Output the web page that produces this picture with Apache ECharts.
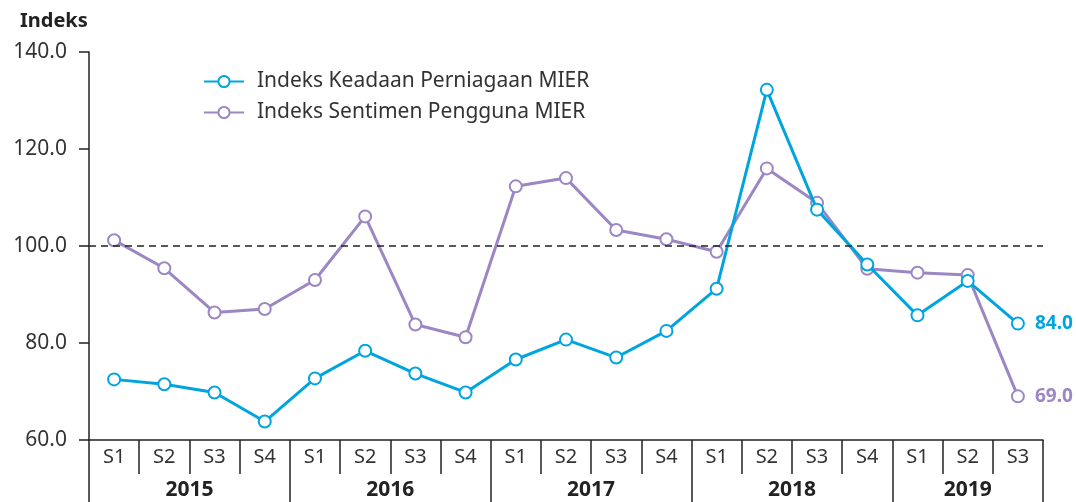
<!DOCTYPE html>
<html>
<head>
<meta charset="utf-8">
<script src="https://cdn.jsdelivr.net/npm/echarts@6/dist/echarts.min.js"></script>
<style>
  html, body { margin: 0; padding: 0; background: #fff; }
  #chart { width: 1076px; height: 502px; }
</style>
</head>
<body>
<div id="chart"></div>
<script>
const quarters = [
  'S1', 'S2', 'S3', 'S4',
  'S1', 'S2', 'S3', 'S4',
  'S1', 'S2', 'S3', 'S4',
  'S1', 'S2', 'S3', 'S4',
  'S1', 'S2', 'S3'
]
const years = ['2015', '2016', '2017', '2018', '2019']
const yearBounds = [0, 4, 8, 12, 16, 19] // kedudukan garis pemisah tahun
const yearCenters = [2, 6, 10, 14, 17.5]

const perniagaan = [
  72.5, 71.5, 69.8, 63.8,
  72.7, 78.4, 73.7, 69.8,
  76.6, 80.7, 77.0, 82.5,
  91.2, 132.2, 107.5, 96.2,
  85.7, 92.8, 84.0
]
const pengguna = [
  101.2, 95.4, 86.3, 87.0,
  93.0, 106.1, 83.8, 81.2,
  112.3, 114.0, 103.3, 101.4,
  98.8, 116.0, 108.9, 95.3,
  94.5, 94.0, 69.0
]
const yTicks = [60, 80, 100, 120, 140]

const blue = '#00a5df'
const purple = '#9c86c3'
const font = 'Noto Sans'

function lastLabel (arr, color) {
  return arr.map((v, i) => i === arr.length - 1
    ? { value: v, label: { show: true, position: 'right', distance: 10, formatter: v.toFixed(1), color: color, fontWeight: 'bold', fontSize: 19, fontFamily: font } }
    : v)
}

const chart = echarts.init(document.getElementById('chart'))
chart.setOption({
  animation: false,
  textStyle: { fontFamily: font },
  title: {
    text: 'Indeks',
    left: 15,
    top: 6,
    textStyle: { fontSize: 20, fontWeight: 'bold', color: '#222', fontFamily: font }
  },
  legend: {
    orient: 'vertical',
    left: 198,
    top: 66,
    itemWidth: 40,
    itemHeight: 14,
    itemGap: 10,
    textStyle: { fontSize: 21, color: '#333', fontFamily: font, padding: [0, 0, 0, 8] },
    data: ['Indeks Keadaan Perniagaan MIER', 'Indeks Sentimen Pengguna MIER']
  },
  grid: { left: 89, right: 33, top: 52, bottom: 62 },
  xAxis: [
    {
      type: 'category',
      data: quarters,
      boundaryGap: true,
      axisLine: { lineStyle: { color: '#222', width: 1.5 } },
      axisTick: { show: true, length: 34, lineStyle: { color: '#222', width: 1.5 } },
      axisLabel: { fontSize: 20, color: '#333', margin: 7, fontFamily: font }
    },
    {
      type: 'value',
      position: 'bottom',
      min: 0,
      max: 19,
      axisLine: { show: false },
      splitLine: { show: false },
      axisTick: { show: true, length: 64, customValues: yearBounds, lineStyle: { color: '#222', width: 1.5 } },
      axisLabel: {
        customValues: yearCenters,
        margin: 40,
        fontSize: 21,
        fontWeight: 'bold',
        color: '#222',
        fontFamily: font,
        formatter: v => years[yearCenters.indexOf(v)]
      }
    }
  ],
  yAxis: {
    type: 'value',
    min: yTicks[0],
    max: yTicks[yTicks.length - 1],
    interval: 20,
    axisLine: { show: true, lineStyle: { color: '#222', width: 1.5 } },
    axisTick: { show: true, length: 10, lineStyle: { color: '#222', width: 1.5 } },
    splitLine: { show: false },
    axisLabel: { fontSize: 21, color: '#333', margin: 22, fontFamily: font, formatter: v => v.toFixed(1) }
  },
  series: [
    {
      name: 'Indeks Keadaan Perniagaan MIER',
      type: 'line',
      z: 3,
      data: lastLabel(perniagaan, blue),
      color: blue,
      symbol: 'emptyCircle',
      symbolSize: 12,
      lineStyle: { width: 3 },
      itemStyle: { borderWidth: 2.8 },
      markLine: {
        silent: true,
        symbol: 'none',
        label: { show: false },
        lineStyle: { color: '#222', type: [7, 5], width: 1.5 },
        data: [{ yAxis: 100 }]
      }
    },
    {
      name: 'Indeks Sentimen Pengguna MIER',
      type: 'line',
      z: 2,
      data: lastLabel(pengguna, purple),
      color: purple,
      symbol: 'emptyCircle',
      symbolSize: 12,
      lineStyle: { width: 3 },
      itemStyle: { borderWidth: 2.8 }
    }
  ]
})
</script>
</body>
</html>
